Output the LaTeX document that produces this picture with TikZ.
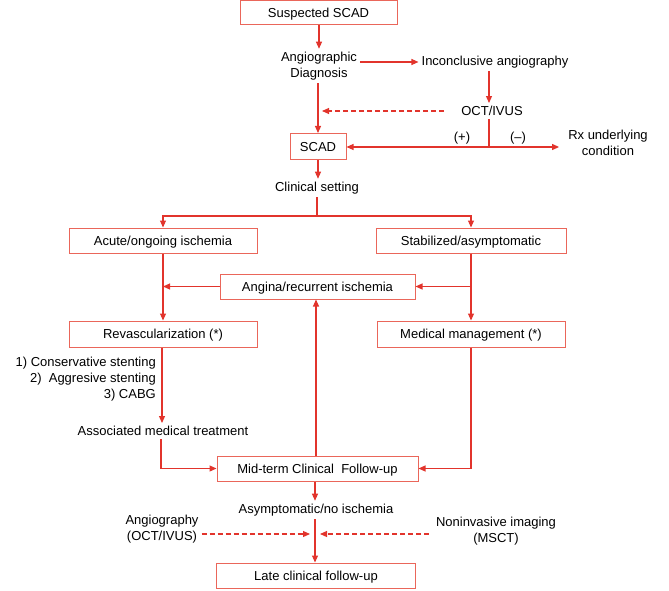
\documentclass[tikz,border=0pt]{standalone}
\usepackage{fontspec}
\setmainfont{Liberation Sans}
\usetikzlibrary{arrows.meta}
\definecolor{linered}{RGB}{226,52,44}
\definecolor{boxred}{RGB}{234,102,90}
\begin{document}
\begin{tikzpicture}[x=1pt,y=-1pt,
  font=\fontsize{13}{16}\selectfont,
  box/.style={draw=boxred,line width=1pt,rectangle,inner sep=0pt,minimum height=25pt,text height=9.4pt,text depth=0pt},
  txt/.style={inner sep=3pt,align=center},
  arr/.style={draw=linered,line width=1.1pt,-{Triangle[length=7pt,width=6pt]}},
  ln/.style={draw=linered,line width=1.1pt},
  darr/.style={draw=linered,line width=1.1pt,dash pattern=on 5pt off 3pt,-{Triangle[length=7pt,width=6pt]}}
]
\useasboundingbox (0,0) rectangle (669,591);
% boxes
\node[box,minimum width=157pt,minimum height=24pt] (susp) at (318.5,13) {Suspected SCAD};
\node[box,minimum width=56pt,minimum height=26pt] (scad) at (318,146.5) {SCAD};
\node[box,minimum width=188pt] (acute) at (163,240.5) {Acute/ongoing ischemia};
\node[box,minimum width=190pt] (stab) at (471,240.5) {Stabilized/asymptomatic};
\node[box,minimum width=195pt] (angina) at (317.5,286.5) {Angina/recurrent ischemia};
\node[box,minimum width=188pt,minimum height=26pt] (revasc) at (163,334) {Revascularization (*)};
\node[box,minimum width=188pt,minimum height=26pt] (med) at (471,334) {Medical management (*)};
\node[box,minimum width=201pt] (mid) at (317.5,468.5) {Mid-term Clinical\ \ Follow-up};
\node[box,minimum width=199pt] (late) at (316,575.5) {Late clinical follow-up};
% texts
\node[txt] (angio) at (319,66) {Angiographic\\Diagnosis};
\node[txt] (inconc) at (495,62) {Inconclusive angiography};
\node[txt] (oct) at (492,111) {OCT/IVUS};
\node[txt] (plus) at (462,138) {(+)};
\node[txt] (minus) at (518,138) {(--)};
\node[txt] (rx) at (608,143) {Rx underlying\\condition};
\node[txt] (clin) at (317,188) {Clinical setting};
\node[inner sep=0pt,align=right,anchor=east] (list) at (156,379) {1) Conservative stenting\\2)\ \ Aggresive stenting\\3) CABG};
\node[txt] (assoc) at (163,431) {Associated medical treatment};
\node[txt] (asym) at (316,510) {Asymptomatic/no ischemia};
\node[txt] (angiog) at (162,529) {Angiography\\(OCT/IVUS)};
\node[txt] (nonin) at (496,531) {Noninvasive imaging\\(MSCT)};
% coordinates
\coordinate (br) at (317,216);
\coordinate (J) at (489,147);
\coordinate (m) at (315,534);
% connectors
\draw[arr] (susp.south -| angio) -- (angio.north);
\draw[arr] (angio.east |- inconc.west) -- (inconc.west);
\draw[arr] ([xshift=-6pt]inconc.south) -- ([xshift=-6pt]inconc.south |- oct.north);
\draw[darr,shorten >=4pt] ([xshift=-14pt]oct.west) -- (oct.west -| scad.north);
\draw[arr] (angio.south -| scad.north) -- (scad.north);
\draw[ln] ([xshift=-3pt]oct.south) -- (J);
\draw[arr] (J) -- (J -| scad.east);
\draw[arr,shorten >=6pt] (J) -- (J -| rx.west);
\draw[arr] (scad.south) -- (clin.north -| scad.south);
\draw[ln] (clin.south) -- (br);
\draw[arr] (br) -| (acute.north);
\draw[arr] (br) -| (stab.north);
\draw[arr] (acute.south) -- (revasc.north);
\draw[arr] (angina.west) -- (angina.west -| acute.south);
\draw[arr] (stab.south) -- (med.north);
\draw[arr] (angina.east -| stab.south) -- (angina.east);
\draw[arr] ([xshift=-1pt]revasc.south) -- ([xshift=-1pt]revasc.south |- assoc.north);
\draw[arr] ([xshift=-2pt]assoc.south) |- (mid.west);
\draw[arr] (med.south) |- (mid.east);
\draw[arr] ([xshift=-1.5pt]mid.north) -- ([xshift=-1.5pt]mid.north |- angina.south);
\draw[arr] (mid.south -| m) -- (asym.north -| m);
\draw[arr] (asym.south -| m) -- (late.north -| m);
\draw[darr,shorten >=5pt] (angiog.east |- m) -- (m);
\draw[darr,shorten >=5pt] ([xshift=-4pt]nonin.west |- m) -- (m);
\end{tikzpicture}
\end{document}
